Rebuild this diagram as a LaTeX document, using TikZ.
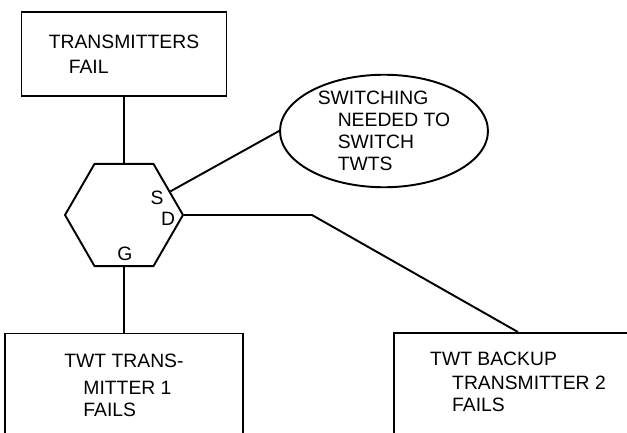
\documentclass[tikz,border=0pt]{standalone}
\usepackage{fontspec}
\setmainfont{Liberation Sans}
\usetikzlibrary{shapes.geometric}
\usetikzlibrary{positioning}

\begin{document}
\begin{tikzpicture}[x=0.02cm,y=-0.02cm,
  every node/.style={font=\fontsize{11}{12.5}\selectfont},
  evbox/.style={draw,rectangle,line width=1.1pt,align=left,inner sep=0pt},
  link/.style={line width=1.1pt}]
\clip (0,0) rectangle (627,433);

% events
\node[evbox,minimum width=4.1cm,minimum height=1.68cm] (top) at (124,54) {TRANSMITTERS\\[2pt]\hspace*{0.4cm}FAIL};
\node[evbox,minimum width=4.76cm,minimum height=2.5cm] (lbox) at (124,396) {TWT TRANS-\\[3pt]\hspace*{0.38cm}MITTER 1\\\hspace*{0.38cm}FAILS\\\mbox{}};
\node[evbox,minimum width=4.96cm,minimum height=2.4cm] (rbox) at (518,393) {TWT BACKUP\\[1pt]\hspace*{0.44cm}TRANSMITTER 2\\\hspace*{0.44cm}FAILS\\\mbox{}};

% gate and condition
\node[regular polygon,regular polygon sides=6,draw,line width=1.1pt,minimum size=2.36cm,inner sep=0pt] (gate) at (124,215) {};
\node (s) at (157,198) {S};
\node (d) at (168,219) {D};
\node (g) at (125,254) {G};
\node[ellipse,draw,line width=1.1pt,minimum width=4.16cm,minimum height=2.24cm,inner sep=0pt,align=left] (cond) at (384,131) {SWITCHING\\\hspace*{0.4cm}NEEDED TO\\\hspace*{0.4cm}SWITCH\\\hspace*{0.4cm}TWTS};

\coordinate (bend) at (312,215);

\draw[link] (top.south) -- (gate.north);
\draw[link] (gate.south) -- (lbox.north);
\draw[link] (gate.27) -- (cond.west);
\draw[link] (gate.east) -- (bend) -- (rbox.north);

\end{tikzpicture}
\end{document}
